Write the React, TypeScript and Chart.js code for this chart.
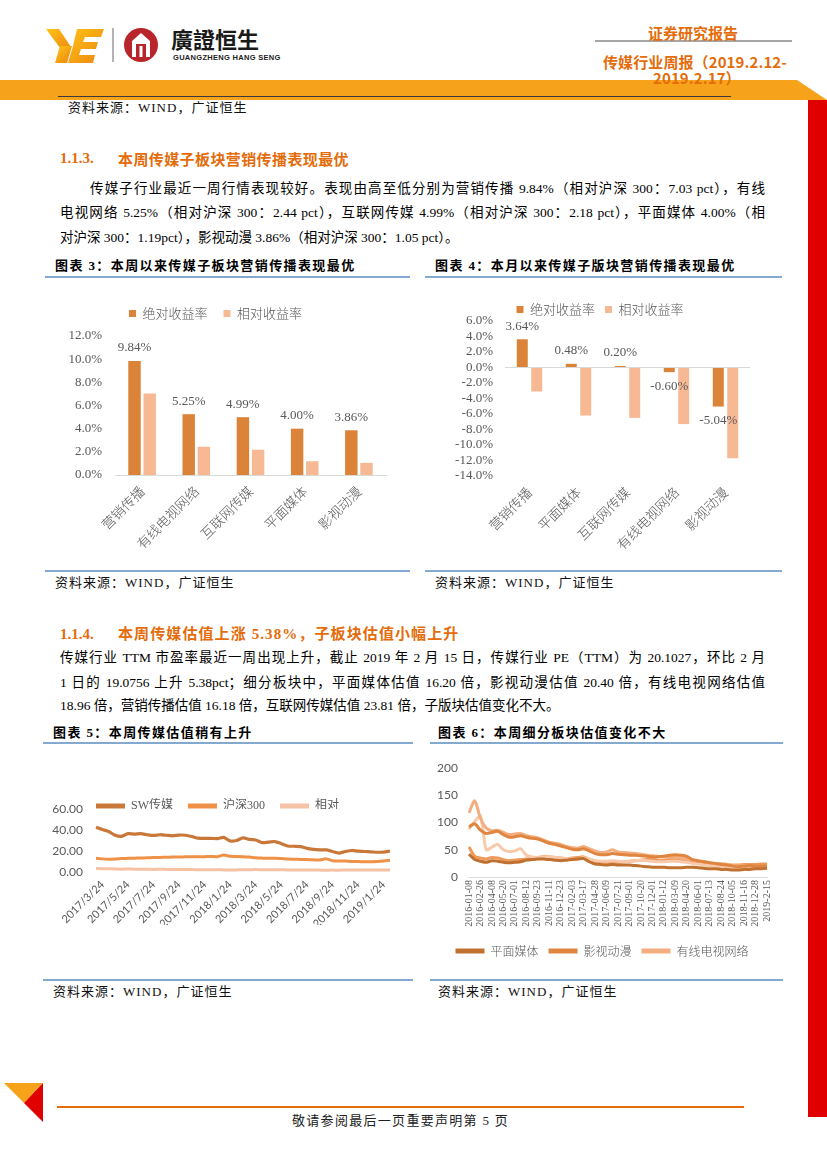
import React, { useEffect, useRef } from 'react';
import { Chart, registerables } from 'chart.js';

Chart.register(...registerables);

// ---------------- data ----------------
const legendNames = ['绝对收益率', '相对收益率'];

const c3Categories = ['营销传播', '有线电视网络', '互联网传媒', '平面媒体', '影视动漫'];
const c3Absolute = [9.84, 5.25, 4.99, 4.0, 3.86];
const c3Relative = [7.03, 2.44, 2.18, 1.19, 1.05];
const c3Axis = [0, 12, 2];

const c4Categories = ['营销传播', '平面媒体', '互联网传媒', '有线电视网络', '影视动漫'];
const c4Absolute = [3.64, 0.48, 0.2, -0.6, -5.04];
const c4Relative = [-3.1, -6.2, -6.5, -7.3, -11.7];
const c4Axis = [-14, 6, 2];

const c5Names = ['SW传媒', '沪深300', '相对'];
const c5TickLabels = ['2017/3/24', '2017/5/24', '2017/7/24', '2017/9/24', '2017/11/24', '2018/1/24', '2018/3/24', '2018/5/24', '2018/7/24', '2018/9/24', '2018/11/24', '2019/1/24'];
const c5SW = [42.6, 40.5, 38.5, 35.0, 34.0, 36.5, 36.0, 36.5, 35.5, 34.8,
  35.5, 35.0, 34.5, 35.2, 35.0, 33.8, 32.2, 32.0, 32.0, 31.8,
  33.0, 29.5, 30.0, 32.5, 31.0, 30.5, 28.0, 28.5, 29.0, 27.0,
  24.8, 24.5, 24.2, 22.5, 21.5, 21.0, 21.0, 19.5, 18.0, 19.5,
  20.5, 19.8, 19.5, 19.2, 18.8, 19.0, 20.0];
const c5HS300 = [13.0, 12.5, 12.2, 12.3, 12.8, 13.0, 13.2, 13.3, 13.5, 13.8,
  13.9, 14.0, 14.2, 14.3, 14.5, 14.6, 14.5, 14.6, 14.8, 14.6,
  16.2, 14.9, 14.8, 14.6, 14.2, 13.5, 13.2, 13.0, 13.2, 12.8,
  12.3, 12.2, 12.0, 11.8, 11.6, 11.4, 12.5, 10.8, 10.5, 10.4,
  10.0, 9.9, 9.8, 9.8, 10.0, 10.5, 11.2];
const c5Relative = [3.3, 3.2, 3.1, 2.9, 2.7, 2.8, 2.7, 2.7, 2.6, 2.5,
  2.6, 2.5, 2.4, 2.5, 2.4, 2.3, 2.2, 2.2, 2.2, 2.2,
  2.0, 1.8, 2.0, 2.2, 2.2, 2.3, 2.1, 2.2, 2.2, 2.1,
  2.0, 2.0, 2.0, 1.9, 1.9, 1.8, 1.7, 1.8, 1.7, 1.9,
  2.0, 2.0, 2.0, 2.0, 1.9, 1.8, 1.8];
const c5TickStart = 1;
const c5TickStep = 4;
const c5Axis = [0, 60, 20];

const c6Names = ['平面媒体', '影视动漫', '有线电视网络', '营销传播', '互联网传媒'];
const c6TickLabels = ['2016-01-08', '2016-02-26', '2016-04-08', '2016-05-20', '2016-07-01', '2016-08-12', '2016-09-23', '2016-11-11', '2016-12-23', '2017-02-03', '2017-03-17', '2017-04-28', '2017-06-09', '2017-07-21', '2017-09-01', '2017-10-20', '2017-12-01', '2018-01-12', '2018-03-09', '2018-04-20', '2018-06-01', '2018-07-13', '2018-08-24', '2018-10-05', '2018-11-16', '2018-12-28', '2019-2-15'];
const c6Print = [42, 32, 29, 27, 30, 29, 27, 26, 27, 28, 31, 32, 33, 33, 32, 31, 30, 31, 32, 33,
  34, 28, 24, 23, 22, 23, 22, 22, 22, 21, 20, 19, 18, 18, 18, 17, 17, 17, 18, 18,
  17, 16, 15, 15, 14, 14, 13, 13, 14, 14, 15, 15, 16.2];
const c6Film = [92, 98, 86, 80, 82, 84, 78, 73, 74, 76, 73, 71, 70, 66, 62, 60, 57, 54, 51, 50,
  52, 48, 43, 41, 41, 43, 42, 41, 40, 40, 39, 38, 37, 37, 38, 40, 41, 40, 38, 32,
  30, 28, 26, 25, 23, 22, 20, 19, 20, 21, 20, 20, 20.4];
const c6Cable = [118, 140, 108, 90, 85, 86, 82, 78, 79, 80, 76, 74, 72, 68, 64, 62, 60, 56, 54, 53,
  56, 52, 48, 45, 46, 50, 46, 45, 44, 43, 42, 40, 39, 38, 37, 37, 36, 35, 33, 31,
  29, 28, 26, 25, 24, 23, 21, 20, 21, 20, 19, 19, 18.96];
const c6Marketing = [88, 102, 112, 50, 55, 60, 50, 47, 48, 52, 40, 37, 36, 36, 37, 36, 35, 34, 33, 33,
  36, 33, 30, 29, 29, 30, 29, 28, 29, 30, 31, 30, 29, 28, 28, 29, 29, 28, 27, 25,
  24, 22, 21, 20, 19, 18, 17, 16, 17, 16, 16, 16, 16.18];
const c6Internet = [55, 38, 35, 33, 36, 35, 32, 30, 31, 32, 33, 35, 36, 37, 37, 36, 35, 34, 35, 36,
  37, 33, 29, 28, 27, 27, 27, 28, 29, 30, 31, 32, 32, 31, 31, 32, 33, 32, 31, 29,
  27, 26, 25, 24, 24, 23, 22, 22, 23, 23, 23, 24, 23.81];
const c6TickStep = 2;
const c6Axis = [0, 200, 50];
const c6LegendCount = 3;

// ---------------- styles ----------------
const CJK = '"Noto Sans CJK SC", sans-serif';
const SERIF_CJK = '"Liberation Serif", "Noto Sans CJK SC", serif';
const ORANGE = '#E46C0A';
const GRAY = '#595959';
const BAR_DARK = '#DB8339';
const BAR_LIGHT = '#F7B994';
const BLUE = '#5A8CC0';

const fixedLegend = (h: number) => ({
  id: 'fixedLegend',
  beforeLayout(chart: any) {
    const lg = chart.legend;
    if (lg && !lg._fixedPatched) {
      const orig = lg.fit;
      lg.fit = function (this: any) {
        orig.call(this);
        this.height = h;
      };
      lg._fixedPatched = true;
    }
  },
});

const barValueLabels = {
  id: 'barValueLabels',
  afterDatasetsDraw(chart: any) {
    const ctx = chart.ctx;
    const meta = chart.getDatasetMeta(0);
    const data = chart.data.datasets[0].data as number[];
    ctx.save();
    ctx.font = '13px "Liberation Serif"';
    ctx.fillStyle = GRAY;
    ctx.textAlign = 'center';
    ctx.textBaseline = 'middle';
    meta.data.forEach((bar: any, i: number) => {
      const v = data[i];
      const y = v >= 0 ? bar.y - 13 : bar.y + 14;
      ctx.fillText(v.toFixed(2) + '%', bar.x, y);
    });
    ctx.restore();
  },
};

const thickLegend = (w: number) => (chart: any) =>
  (Chart.defaults.plugins.legend.labels.generateLabels as any)(chart).map((it: any) => ({ ...it, lineWidth: w }));

function makeBarConfig(cats: string[], abs: number[], rel: number[], axis: number[], o: any) {
  return {
    type: 'bar',
    data: {
      labels: cats,
      datasets: [
        { label: legendNames[0], data: abs, backgroundColor: BAR_DARK, categoryPercentage: o.cat, barPercentage: o.bar },
        { label: legendNames[1], data: rel, backgroundColor: BAR_LIGHT, categoryPercentage: o.cat, barPercentage: o.bar },
      ],
    },
    options: {
      responsive: false,
      animation: false,
      devicePixelRatio: 1,
      layout: { padding: { left: 0, right: o.padRight, top: 0, bottom: 0 } },
      plugins: {
        legend: {
          position: 'top',
          labels: { boxWidth: 7, boxHeight: 7, padding: o.legendPad, color: GRAY, font: { size: 13, family: CJK, weight: '300' } },
        },
        tooltip: { enabled: false },
      },
      scales: {
        x: {
          grid: { display: false, drawTicks: false },
          border: { display: o.zeroBorder, color: '#D9D9D9' },
          ticks: { autoSkip: false, maxRotation: 45, minRotation: 45, padding: 8, color: GRAY, font: { size: 13.5, family: CJK, weight: '300' } },
          afterFit: (s: any) => { s.height = o.xHeight; },
        },
        y: {
          min: axis[0],
          max: axis[1],
          ticks: { autoSkip: false, stepSize: axis[2], padding: o.yPad, color: GRAY, font: { size: 13, family: '"Liberation Serif"' }, callback: (v: any) => Number(v).toFixed(1) + '%' },
          grid: {
            display: !o.zeroBorder,
            drawTicks: false,
            color: (c: any) => (c.tick && c.tick.value === 0 ? '#D9D9D9' : 'rgba(0,0,0,0)'),
          },
          border: { display: false },
          afterFit: (s: any) => { s.width = o.yWidth; },
        },
      },
    },
    plugins: [fixedLegend(o.legendH), barValueLabels],
  };
}

const c3Config = () => makeBarConfig(c3Categories, c3Absolute, c3Relative, c3Axis, {
  cat: 0.56, bar: 0.82, padRight: 24, legendPad: 16, zeroBorder: true, xHeight: 87, yPad: 13, yWidth: 70, legendH: 45,
});
const c4Config = () => makeBarConfig(c4Categories, c4Absolute, c4Relative, c4Axis, {
  cat: 0.59, bar: 0.76, padRight: 32, legendPad: 10, zeroBorder: false, xHeight: 84, yPad: 12, yWidth: 55, legendH: 28,
});

const c5Labels = c5SW.map((_, i) =>
  i >= c5TickStart && (i - c5TickStart) % c5TickStep === 0 ? c5TickLabels[(i - c5TickStart) / c5TickStep] || '' : ''
);

const lineDs = (label: string, data: number[], color: string, width = 3) => ({
  label, data, borderColor: color, backgroundColor: color, borderWidth: width, pointRadius: 0, tension: 0.25,
});

const c5Config = () => ({
  type: 'line',
  data: {
    labels: c5Labels,
    datasets: [
      lineDs(c5Names[0], c5SW, '#C9783A', 3.2),
      lineDs(c5Names[1], c5HS300, '#EF9146', 3),
      lineDs(c5Names[2], c5Relative, '#F6C2A6', 3),
    ],
  },
  options: {
    responsive: false,
    animation: false,
    devicePixelRatio: 1,
    layout: { padding: { right: 20 } },
    plugins: {
      legend: {
        position: 'top',
        labels: { usePointStyle: true, pointStyle: 'line', pointStyleWidth: 29, padding: 15, color: GRAY, font: { size: 12, family: SERIF_CJK }, generateLabels: thickLegend(5) },
      },
      tooltip: { enabled: false },
    },
    scales: {
      x: {
        grid: { display: false, drawTicks: false },
        border: { display: false },
        ticks: { autoSkip: false, maxRotation: 45, minRotation: 45, padding: 6, color: GRAY, font: { size: 11, family: 'Lato' } },
        afterFit: (s: any) => { s.height = 53; },
      },
      y: {
        min: c5Axis[0],
        max: c5Axis[1],
        ticks: { autoSkip: false, stepSize: c5Axis[2], padding: 13, color: GRAY, font: { size: 12, family: 'Lato' }, callback: (v: any) => Number(v).toFixed(2) },
        grid: { display: false, drawTicks: false },
        border: { display: false },
        afterFit: (s: any) => { s.width = 51; },
      },
    },
  },
  plugins: [fixedLegend(24)],
});

const c6Labels = c6Print.map((_, i) => (i % c6TickStep === 0 ? c6TickLabels[i / c6TickStep] || '' : ''));

const c6Config = () => ({
  type: 'line',
  data: {
    labels: c6Labels,
    datasets: [
      lineDs(c6Names[0], c6Print, '#C0702F'),
      lineDs(c6Names[1], c6Film, '#E0853F'),
      lineDs(c6Names[2], c6Cable, '#F4AD7F'),
      lineDs(c6Names[3], c6Marketing, '#F8C9AA'),
      lineDs(c6Names[4], c6Internet, '#EE9A5B'),
    ],
  },
  options: {
    responsive: false,
    animation: false,
    devicePixelRatio: 1,
    layout: { padding: { top: 11, right: 14 } },
    plugins: {
      legend: {
        position: 'bottom',
        labels: {
          usePointStyle: true, pointStyle: 'line', pointStyleWidth: 29, padding: 10, color: GRAY,
          font: { size: 12, family: CJK, weight: '300' }, generateLabels: thickLegend(5),
          filter: (it: any) => it.datasetIndex < c6LegendCount,
        },
      },
      tooltip: { enabled: false },
    },
    scales: {
      x: {
        grid: { display: false, drawTicks: false },
        border: { display: true, color: '#D9D9D9' },
        ticks: { autoSkip: false, maxRotation: 90, minRotation: 90, padding: 3, color: GRAY, font: { size: 10, family: '"Liberation Serif"' } },
        afterFit: (s: any) => { s.height = 58; },
      },
      y: {
        min: c6Axis[0],
        max: c6Axis[1],
        ticks: { autoSkip: false, stepSize: c6Axis[2], padding: 11, color: GRAY, font: { size: 12, family: 'Lato' } },
        grid: { display: false, drawTicks: false },
        border: { display: false },
        afterFit: (s: any) => { s.width = 33; },
      },
    },
  },
  plugins: [fixedLegend(30)],
});

// ---------------- components ----------------
function ChartCanvas({ left, top, width, height, make }: { left: number; top: number; width: number; height: number; make: () => any }) {
  const ref = useRef<HTMLCanvasElement | null>(null);
  useEffect(() => {
    if (!ref.current) return;
    const chart = new Chart(ref.current, make());
    return () => chart.destroy();
  }, []);
  return <canvas ref={ref} width={width} height={height} style={{ position: 'absolute', left, top, width, height }} />;
}

function Txt({ x, y, size = 13, weight = 400, color = '#000', family = SERIF_CJK, ls = 0, w, justify, children }: any) {
  const lh = Math.round(size * 1.5);
  return (
    <div
      style={{
        position: 'absolute', left: x, top: y - lh / 2, height: lh, lineHeight: lh + 'px', fontSize: size, fontWeight: weight,
        color, fontFamily: family, letterSpacing: ls, whiteSpace: justify ? 'normal' : 'nowrap', width: w,
        textAlign: justify ? 'justify' : 'left', textAlignLast: justify ? 'justify' : 'auto',
      } as any}
    >
      {children}
    </div>
  );
}

const Source = ({ x, y }: { x: number; y: number }) => (
  <Txt x={x} y={y} size={13} ls={1} color="#111">资料来源：WIND，广证恒生</Txt>
);

const ChartTitle = ({ x, y, children }: any) => (
  <Txt x={x} y={y} size={13} weight={700} ls={1.4} family={'"Liberation Serif", "Noto Sans CJK SC"'}>{children}</Txt>
);

export default function App() {
  return (
    <div style={{ position: 'relative', width: 827, height: 1169, overflow: 'hidden', background: '#fff' }}>
      <style>{'body{margin:0;}'}</style>
      <svg width={827} height={1169} style={{ position: 'absolute', left: 0, top: 0 }}>
        <defs>
          <linearGradient id="yg" x1="0" y1="0" x2="1" y2="1">
            <stop offset="0" stopColor="#FDC414" />
            <stop offset="1" stopColor="#EE8512" />
          </linearGradient>
        </defs>
        {/* logo */}
        <polygon points="46,29 59,29 71,47 63,52" fill="url(#yg)" />
        <polygon points="60,46 72,46 67,63 55,63" fill="url(#yg)" />
        <polygon points="77,29 104,29 101,37 85,37 83,42 98,42 96,49 81,49 79,55 95,55 93,63 68,63 73,46" fill="url(#yg)" />
        <line x1={113} y1={28} x2={113} y2={62} stroke="#666" strokeWidth={1} />
        <circle cx={141} cy={45} r={17} fill="#B8252B" />
        <path d="M132 57 V41 L141 33 L150 41 V57 H146 V44 H136 V57 Z" fill="#fff" />
        <rect x={139.5} y={46} width={3} height={11} fill="#fff" />
        {/* header right */}
        <line x1={595} y1={41} x2={792} y2={41} stroke="#A6A6A6" strokeWidth={2} />
        {/* band */}
        <polygon points="0,80 797,80 827,100 0,100" fill="#F7A21B" />
        <line x1={58} y1={96.5} x2={731} y2={96.5} stroke="#3a3a3a" strokeWidth={1} />
        <rect x={808} y={100} width={19} height={1017} fill="#E00000" />
        {/* chart frames */}
        <line x1={45} y1={277} x2={410} y2={277} stroke={BLUE} strokeWidth={1.5} />
        <line x1={425} y1={277} x2={782} y2={277} stroke={BLUE} strokeWidth={1.5} />
        <line x1={45} y1={571} x2={410} y2={571} stroke={BLUE} strokeWidth={1.5} />
        <line x1={425} y1={571} x2={782} y2={571} stroke={BLUE} strokeWidth={1.5} />
        <line x1={43} y1={743} x2={413} y2={743} stroke={BLUE} strokeWidth={1.5} />
        <line x1={430} y1={743} x2={783} y2={743} stroke={BLUE} strokeWidth={1.5} />
        <line x1={43} y1={980} x2={413} y2={980} stroke={BLUE} strokeWidth={1.5} />
        <line x1={430} y1={980} x2={783} y2={980} stroke={BLUE} strokeWidth={1.5} />
        {/* footer */}
        <polygon points="4,1083 43,1083 24,1103" fill="#F7A21B" />
        <polygon points="43,1083 43,1122 24,1103" fill="#E00000" />
        <line x1={57} y1={1107} x2={744} y2={1107} stroke={ORANGE} strokeWidth={2} />
      </svg>

      <Txt x={171} y={38} size={22} weight={700} family={'"Noto Sans CJK TC", "Noto Sans CJK SC"'} color="#1a1a1a">廣證恒生</Txt>
      <Txt x={173} y={57} size={7.5} weight={700} family={'"Liberation Sans Narrow", "Liberation Sans", sans-serif'} ls={0.3} color="#222">GUANGZHENG HANG SENG</Txt>
      <Txt x={648} y={32} size={15} weight={700} family={CJK} color={ORANGE}>证券研究报告</Txt>
      <Txt x={603} y={61} size={15} weight={700} family={'"Liberation Sans Narrow", "Noto Sans CJK SC"'} ls={0.1} color={ORANGE}>传媒行业周报（2019.2.12-</Txt>
      <Txt x={653} y={77} size={15} weight={700} family={'"Liberation Sans Narrow", "Noto Sans CJK SC"'} ls={0.1} color={ORANGE}>2019.2.17）</Txt>

      <Source x={68} y={108} />

      <Txt x={60} y={158} size={15} weight={700} family={'"Liberation Serif"'} color={ORANGE}>1.1.3.</Txt>
      <Txt x={118} y={158} size={15} weight={700} family={CJK} ls={0.4} color={ORANGE}>本周传媒子板块营销传播表现最优</Txt>
      <Txt x={90} y={189} w={675} size={13.5} justify>传媒子行业最近一周行情表现较好。表现由高至低分别为营销传播 9.84%（相对沪深 300：7.03 pct），有线</Txt>
      <Txt x={60} y={213} w={705} size={13.5} justify>电视网络 5.25%（相对沪深 300：2.44 pct），互联网传媒 4.99%（相对沪深 300：2.18 pct），平面媒体 4.00%（相</Txt>
      <Txt x={60} y={238} size={13.5}>对沪深 300：1.19pct），影视动漫 3.86%（相对沪深 300：1.05 pct）。</Txt>

      <ChartTitle x={55} y={266}>图表 3：本周以来传媒子板块营销传播表现最优</ChartTitle>
      <ChartTitle x={435} y={266}>图表 4：本月以来传媒子版块营销传播表现最优</ChartTitle>
      <ChartCanvas left={45} top={291} width={365} height={271} make={c3Config} />
      <ChartCanvas left={450} top={293} width={332} height={267} make={c4Config} />
      <Source x={55} y={583} />
      <Source x={435} y={583} />

      <Txt x={60} y={634} size={15} weight={700} family={'"Liberation Serif"'} color={ORANGE}>1.1.4.</Txt>
      <Txt x={118} y={634} size={15} weight={700} family={'"Liberation Serif", "Noto Sans CJK SC"'} ls={1.1} color={ORANGE}>本周传媒估值上涨 5.38%，子板块估值小幅上升</Txt>
      <Txt x={60} y={658} w={705} size={13.5} justify>传媒行业 TTM 市盈率最近一周出现上升，截止 2019 年 2 月 15 日，传媒行业 PE（TTM）为 20.1027，环比 2 月</Txt>
      <Txt x={60} y={683} w={705} size={13.5} justify>1 日的 19.0756 上升 5.38pct；细分板块中，平面媒体估值 16.20 倍，影视动漫估值 20.40 倍，有线电视网络估值</Txt>
      <Txt x={60} y={706} size={13.5}>18.96 倍，营销传播估值 16.18 倍，互联网传媒估值 23.81 倍，子版块估值变化不大。</Txt>

      <ChartTitle x={53} y={733}>图表 5：本周传媒估值稍有上升</ChartTitle>
      <ChartTitle x={438} y={733}>图表 6：本周细分板块估值变化不大</ChartTitle>
      <ChartCanvas left={45} top={785} width={365} height={140} make={c5Config} />
      <ChartCanvas left={436} top={750} width={346} height={215} make={c6Config} />
      <Source x={53} y={992} />
      <Source x={438} y={992} />

      <Txt x={292} y={1121} size={13} ls={1.3} color="#222">敬请参阅最后一页重要声明第 5 页</Txt>
    </div>
  );
}
